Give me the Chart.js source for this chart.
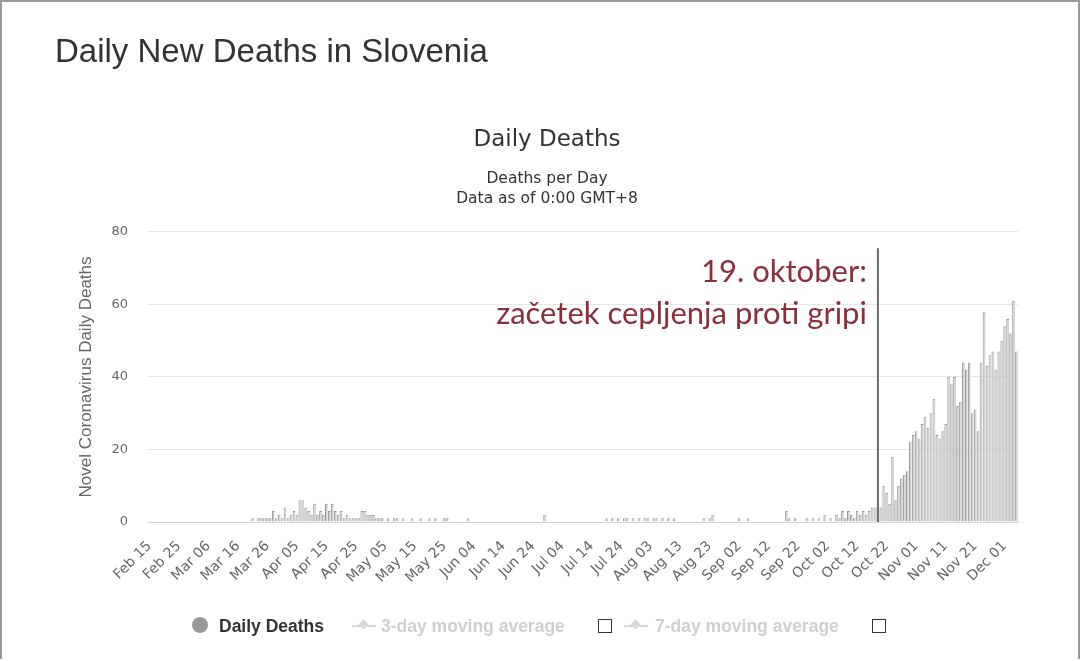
<!DOCTYPE html>
<html>
<head>
<meta charset="utf-8">
<script src="https://cdn.jsdelivr.net/npm/chart.js@4.4.0/dist/chart.umd.min.js"></script>
<style>
  body { margin: 0; width: 1080px; height: 661px; background: #fff; overflow: hidden; position: relative;
         font-family: "Liberation Sans", Arial, sans-serif; }
  #frame { position: absolute; left: 0; top: 0; width: 1076px; height: 657px; border: 2px solid #9a9a9a; border-bottom: none; }
  h1 { position: absolute; left: 55px; top: 32px; margin: 0; font-size: 33px; font-weight: normal; color: #333; z-index: 2; }
  canvas { position: absolute; left: 0; top: 0; }
  .leg { position: absolute; top: 615px; height: 22px; line-height: 22px; font-size: 17.5px; font-weight: bold; white-space: nowrap; }
  .dot { position: absolute; left: 192px; top: 617px; width: 16px; height: 16px; border-radius: 50%; background: #999; }
  .sym { position: absolute; top: 625px; height: 2px; width: 24px; background: #d8d8d8; }
  .sym::after { content: ""; position: absolute; left: 8px; top: -4px; width: 7px; height: 7px; background: #d8d8d8; transform: rotate(45deg); }
  .box { position: absolute; top: 619px; width: 12px; height: 12px; border: 1.5px solid #333; background: #fff; }
</style>
</head>
<body>
<div id="frame"></div>
<h1>Daily New Deaths in Slovenia</h1>
<canvas id="deaths" width="1080" height="661"></canvas>

<div class="dot"></div>
<div class="leg" style="left:219px; color:#333;">Daily Deaths</div>
<div class="sym" style="left:352px;"></div>
<div class="leg" style="left:381px; color:#cfcfcf;">3-day moving average</div>
<div class="box" style="left:598px;"></div>
<div class="sym" style="left:624px;"></div>
<div class="leg" style="left:655px; color:#cfcfcf;">7-day moving average</div>
<div class="box" style="left:872px;"></div>

<script>
// daily deaths, Feb 15 - Dec 05 (2020)
const feb = [0,0,0,0,0, 0,0,0,0,0, 0,0,0,0,0];                       // 15-29
const mar = [0,0,0,0,0,0,0,0,0,0, 0,0,0,0,0,0,0,0,0,0, 1,0,1,1,1,1,1,3,1,2, 1];
const apr = [4,1,2,3,2,6,6,4,3,2, 5,2,3,2,5,3,5,3,2,3, 1,2,1,1,1,1,3,3,2,2];
const may = [2,1,1,1,0,1,0,1,1,0, 1,0,0,1,0,0,1,0,0,1, 0,1,0,0,1,1,0,0,0,0, 0];
const jun = [0,1,0,0,0,0,0,0,0,0, 0,0,0,0,0,0,0,0,0,0, 0,0,0,0,0,0,0,2,0,0];
const jul = [0,0,0,0,0,0,0,0,0,0, 0,0,0,0,0,0,0,0,1,0, 1,0,1,0,1,1,0,1,0,1, 0];
const aug = [1,1,0,1,1,0,1,0,1,0, 1,0,0,0,0,0,0,0,0,0, 1,0,1,2,0,0,0,0,0,0, 0];
const sep = [0,1,0,0,1,0,0,0,0,0, 0,0,0,0,0,0,0,3,1,0, 1,0,0,0,1,0,1,0,1,0];
const oct = [2,0,1,0,2,1,3,1,3,2, 1,3,2,3,2,3,4,4,4,4, 10,8,5,18,6,10,12,13,14,22, 24];
const nov = [25,23,27,29,26,30,34,24,23,25, 27,40,38,40,32,33,44,42,44,30, 31,25,44,58,43,46,47,42,47,50];
const dec = [54,56,52,61,47];

const deaths = [].concat(feb, mar, apr, may, jun, jul, aug, sep, oct, nov, dec);

const monthNames = ['Jan','Feb','Mar','Apr','May','Jun','Jul','Aug','Sep','Oct','Nov','Dec'];
const days = [];
for (let i = 0; i < deaths.length; i++) {
  const d = new Date(2020, 1, 15 + i);
  days.push(monthNames[d.getMonth()] + ' ' + String(d.getDate()).padStart(2, '0'));
}

const markerDay = 'Oct 19';
const note = ['19. oktober:', 'začetek cepljenja proti gripi'];

const oct19Line = {
  id: 'oct19',
  afterDatasetsDraw(chart) {
    const {ctx, scales: {x, y}} = chart;
    const px = x.getPixelForValue(days.indexOf(markerDay));
    ctx.save();
    ctx.strokeStyle = '#6a6a6a';
    ctx.lineWidth = 2;
    ctx.beginPath();
    ctx.moveTo(px, y.getPixelForValue(75.5));
    ctx.lineTo(px, y.getPixelForValue(0));
    ctx.stroke();
    ctx.fillStyle = '#8c2f3c';
    ctx.font = '31px Lato';
    ctx.textAlign = 'right';
    ctx.textBaseline = 'middle';
    ctx.fillText(note[0], px - 11, y.getPixelForValue(69));
    ctx.fillText(note[1], px - 11, y.getPixelForValue(57.3));
    ctx.restore();
  }
};

new Chart(document.getElementById('deaths'), {
  type: 'bar',
  data: {
    labels: days,
    datasets: [{
      label: 'Daily Deaths',
      data: deaths,
      backgroundColor: '#d3d3d3',
      borderColor: '#999',
      borderWidth: {left: 1, top: 1, right: 0, bottom: 0},
      barPercentage: 0.95,
      categoryPercentage: 1
    }]
  },
  options: {
    responsive: false,
    animation: false,
    layout: {padding: {left: 76, right: 62, top: 126, bottom: 39}},
    plugins: {
      legend: {display: false},
      tooltip: {enabled: false},
      title: {
        display: true, text: 'Daily Deaths', color: '#333',
        font: {family: 'DejaVu Sans', size: 23, weight: 'normal'},
        padding: {top: 0, bottom: 15}
      },
      subtitle: {
        display: true, text: ['Deaths per Day', 'Data as of 0:00 GMT+8'], color: '#333',
        font: {family: 'DejaVu Sans', size: 15.5, lineHeight: 1.3},
        padding: {top: 0, bottom: 23}
      }
    },
    scales: {
      x: {
        grid: {display: false},
        border: {color: '#ccd6eb'},
        ticks: {
          autoSkip: false, minRotation: 45, maxRotation: 45, padding: 8,
          color: '#666', font: {family: 'DejaVu Sans', size: 14},
          callback: (v, i) => (i % 10 === 0 ? days[i] : '')
        },
        afterFit: s => { s.height = 100; }
      },
      y: {
        min: 0, max: 80,
        ticks: {stepSize: 20, padding: 20, color: '#666', font: {family: 'DejaVu Sans', size: 13}},
        grid: {color: '#e6e6e6', drawTicks: false},
        border: {display: false},
        title: {
          display: true, text: 'Novel Coronavirus Daily Deaths', color: '#666',
          font: {family: 'Liberation Sans', size: 17}, padding: 0
        },
        afterFit: s => { s.width = 72; }
      }
    }
  },
  plugins: [oct19Line]
});
</script>
</body>
</html>
